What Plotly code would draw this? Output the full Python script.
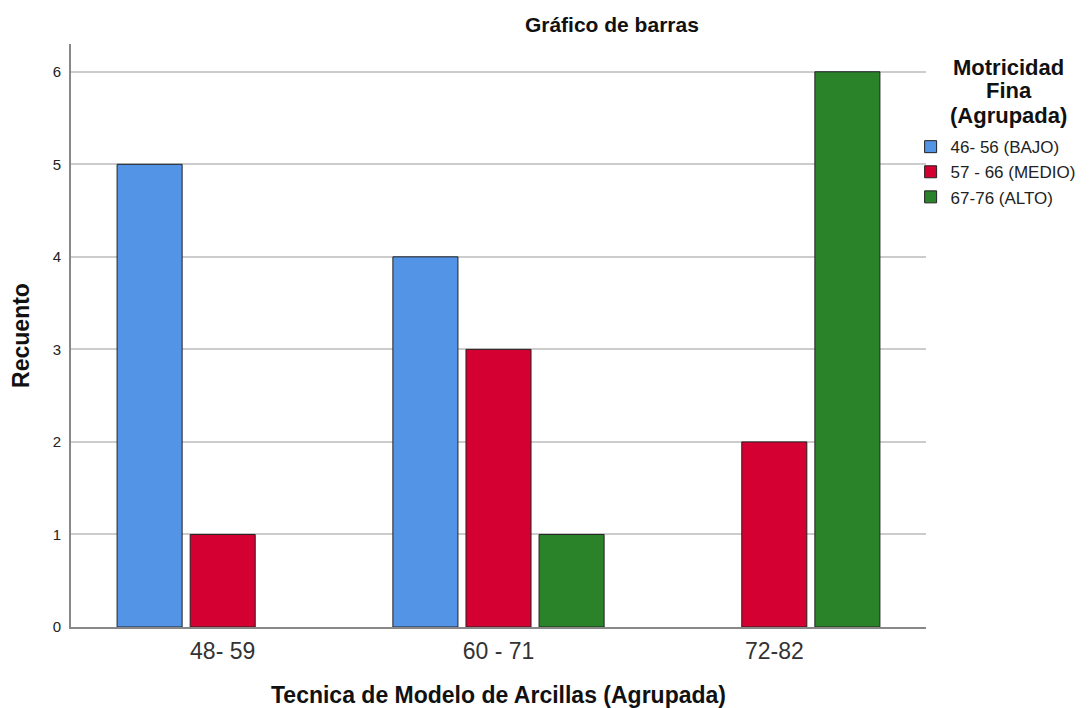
import plotly.graph_objects as go

categories = ["48- 59", "60 - 71", "72-82"]
series_names = ["46- 56 (BAJO)", "57 - 66 (MEDIO)", "67-76 (ALTO)"]
bajo = [5, 4, None]
medio = [1, 3, 2]
alto = [None, 1, 6]
colors = ["#5394E6", "#D50032", "#2A8229"]
y_ticks = [0, 1, 2, 3, 4, 5, 6]
legend_title_lines = ["Motricidad", "Fina", "(Agrupada)"]

fig = go.Figure()
for name, vals, col in zip(series_names, [bajo, medio, alto], colors):
    fig.add_trace(go.Bar(
        x=categories, y=vals, name=name,
        marker=dict(color=col, line=dict(color="#222222", width=1)),
    ))

# legend title as centered text lines (tight line spacing)
title_annots = []
for i, line in enumerate(legend_title_lines):
    title_annots.append(dict(
        text="<b>" + line + "</b>", xref="paper", yref="paper",
        x=1.097, y=(627 - 67 - 24 * i) / 583, xanchor="center", yanchor="middle",
        showarrow=False, font=dict(size=22, color="#111111"),
    ))

fig.update_layout(
    width=1092, height=708,
    paper_bgcolor="white", plot_bgcolor="white",
    margin=dict(l=63, r=174, t=36, b=89),
    font=dict(family="Liberation Sans, Arial, sans-serif", color="#222222"),
    title=dict(text="<b>Gráfico de barras</b>", x=0.553, xanchor="center",
               y=0.976, yanchor="middle", font=dict(size=21, color="#111111")),
    barmode="group", bargap=0.205, bargroupgap=0.11,
    showlegend=True,
    legend=dict(
        x=0.982, xanchor="left", y=0.854, yanchor="top",
        bgcolor="rgba(0,0,0,0)",
        font=dict(size=17, color="#222222"),
        tracegroupgap=0, itemwidth=30,
    ),
    annotations=title_annots,
)
fig.update_xaxes(
    type="category", range=[-0.55, 2.55], automargin=False,
    showline=True, linecolor="#888888", linewidth=2,
    ticks="", tickfont=dict(size=23, color="#333333"), ticklabelstandoff=2,
    title=dict(text="<b>Tecnica de Modelo de Arcillas (Agrupada)</b>",
               font=dict(size=23, color="#111111"), standoff=24),
    showgrid=False,
)
fig.update_yaxes(
    range=[0, 6.3], tickvals=y_ticks, automargin=False,
    showline=True, linecolor="#888888", linewidth=2,
    showgrid=True, gridcolor="#CCCCCC", gridwidth=1.5,
    ticks="", tickfont=dict(size=15, color="#222222"), ticklabelstandoff=5,
    title=dict(text="<b>Recuento</b>", font=dict(size=23, color="#111111"), standoff=18),
    zeroline=False,
)

fig.write_html("out.html")
